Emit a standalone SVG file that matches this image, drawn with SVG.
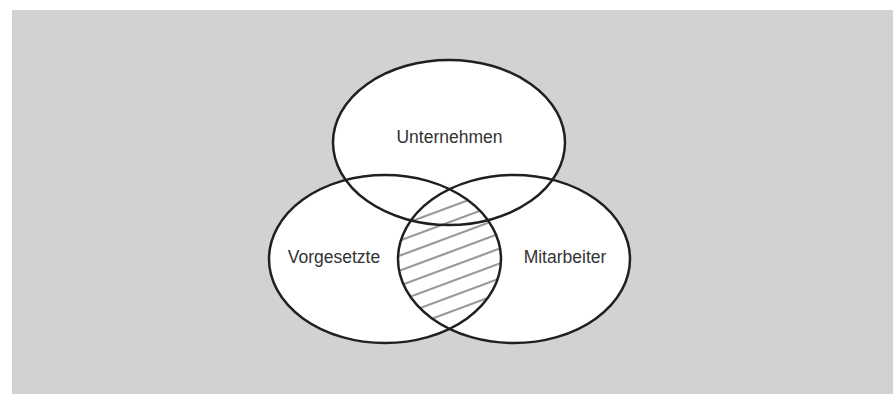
<svg xmlns="http://www.w3.org/2000/svg" width="893" height="394" viewBox="0 0 893 394">
  <style>
    .fill { fill: #ffffff; stroke: none; }
    .ring { fill: none; stroke: #231f20; stroke-width: 2.5; }
    .hatch { stroke: #9a9a9c; stroke-width: 2.2; fill: none; }
    .label { font-family: "Liberation Sans", Arial, sans-serif; font-size: 17.5px; fill: #333333; text-anchor: middle; }
  </style>
  <defs>
    <clipPath id="lensLeft">
      <ellipse cx="385" cy="259" rx="115" ry="83"/>
    </clipPath>
    <clipPath id="lensRight">
      <ellipse cx="514" cy="259" rx="115" ry="83"/>
    </clipPath>
  </defs>
  <rect x="12" y="10" width="881" height="384" fill="#d1d2d4"/>
  <g id="fills">
    <ellipse class="fill" cx="449" cy="142.5" rx="116" ry="82.5"/>
    <ellipse class="fill" cx="385" cy="259" rx="116" ry="84"/>
    <ellipse class="fill" cx="514" cy="259" rx="116" ry="84"/>
  </g>
  <g id="hatching" clip-path="url(#lensLeft)">
    <g clip-path="url(#lensRight)">
      <line class="hatch" x1="380" y1="233" x2="520" y2="181"/>
      <line class="hatch" x1="380" y1="248" x2="520" y2="196"/>
      <line class="hatch" x1="380" y1="263" x2="520" y2="211"/>
      <line class="hatch" x1="380" y1="278" x2="520" y2="226"/>
      <line class="hatch" x1="380" y1="293" x2="520" y2="241"/>
      <line class="hatch" x1="380" y1="308" x2="520" y2="256"/>
      <line class="hatch" x1="380" y1="323" x2="520" y2="271"/>
      <line class="hatch" x1="380" y1="338" x2="520" y2="286"/>
    </g>
  </g>
  <g id="unternehmen">
    <ellipse class="ring" cx="449" cy="142.5" rx="116" ry="82.5"/>
    <text class="label" x="449.5" y="142.5">Unternehmen</text>
  </g>
  <g id="vorgesetzte">
    <ellipse class="ring" cx="385" cy="259" rx="116" ry="84"/>
    <text class="label" x="334" y="262.5">Vorgesetzte</text>
  </g>
  <g id="mitarbeiter">
    <ellipse class="ring" cx="514" cy="259" rx="116" ry="84"/>
    <text class="label" x="565" y="262.5">Mitarbeiter</text>
  </g>
  <g id="connectors"/>
</svg>
